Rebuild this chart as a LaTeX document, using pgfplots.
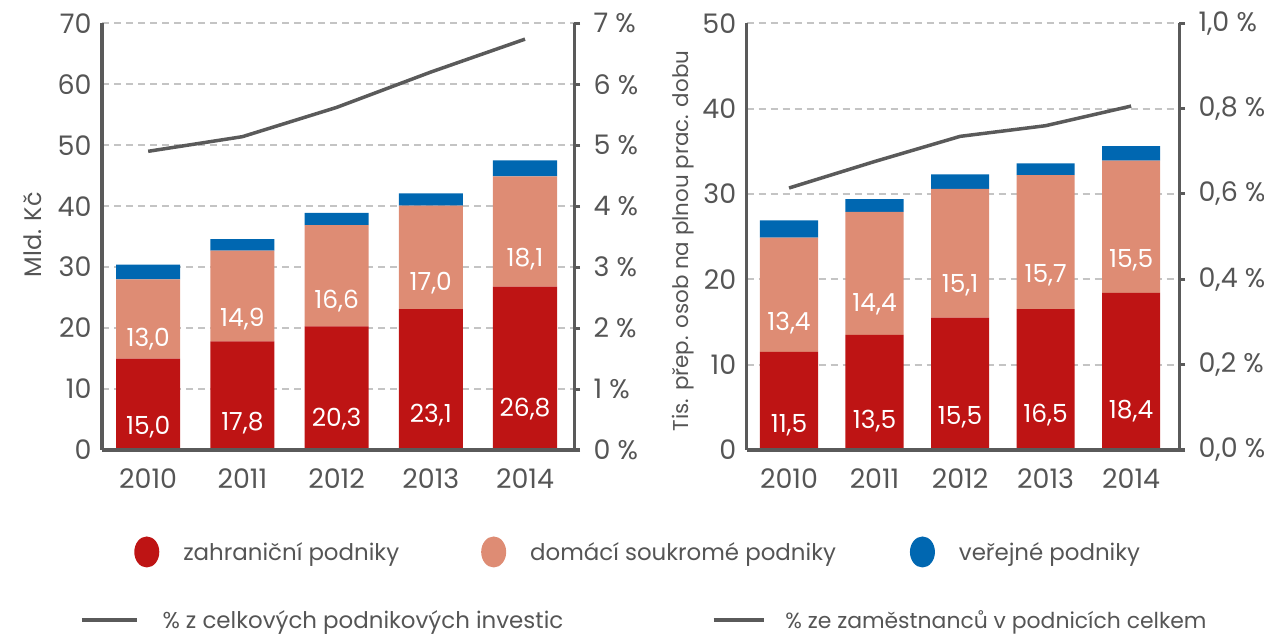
\documentclass[border=0pt]{standalone}
\usepackage{fontspec}
\setmainfont{Poppins}
\usepackage{pgfplots}
\pgfplotsset{compat=1.18}
\usepackage{pgfplotstable}
\definecolor{cred}{HTML}{BE1414}
\definecolor{cpeach}{HTML}{DE8C74}
\definecolor{cblue}{HTML}{0067B1}
\definecolor{axgray}{HTML}{5A5A5A}
\definecolor{gridgray}{HTML}{C4C4C4}
\definecolor{txtgray}{HTML}{555555}

\pgfplotstableread{
x red peach blue pct
0 15.0 13.0 2.4 4.90
1 17.8 14.9 1.9 5.14
2 20.3 16.6 2.0 5.62
3 23.1 17.0 2.0 6.20
4 26.8 18.1 2.6 6.74
}\leftdata

\pgfplotstableread{
x red peach blue pct
0 11.5 13.4 2.0 0.614
1 13.5 14.4 1.5 0.676
2 15.5 15.1 1.7 0.735
3 16.5 15.7 1.4 0.760
4 18.4 15.5 1.7 0.806
}\rightdata

\pgfplotsset{
  /pgf/number format/assume math mode=true,
  mybase/.style={
    scale only axis, anchor=south west,
    axis line style={draw=axgray, line width=3bp},
    ticklabel style={font=\fontsize{27}{30}\selectfont, text=txtgray},
    major tick length=0pt,
    clip=false,
  },
  barbase/.style={
    mybase,
    axis x line*=bottom, axis y line*=left,
    xtick={0,1,2,3,4}, xticklabels={2010,2011,2012,2013,2014},
    xticklabel style={yshift=-15bp},
    yticklabel style={xshift=-7bp},
    ymajorgrids,
    grid style={draw=gridgray, line width=1.8bp, dash pattern=on 7bp off 5bp},
    ybar stacked, bar width=0.68, ymin=0,
    ylabel style={text=txtgray},
  },
  linebase/.style={
    mybase,
    axis x line*=bottom, axis y line*=right,
    xtick=\empty, ymin=0,
    tick align=outside, major tick length=6bp,
    ytick style={draw=axgray, line width=3bp},
    yticklabel style={xshift=10bp},
    legend image code/.code={\draw[#1] (0bp,0bp) -- (55bp,0bp);},
    legend style={draw=none, fill=none, anchor=west,
      font=\fontsize{23}{26}\selectfont, text=txtgray, inner sep=0pt,
      /tikz/every odd column/.append style={column sep=22bp}},
  },
  valnodes/.style={
    nodes near coords={\pgfmathprintnumber[fixed,fixed zerofill,precision=1,use comma]{\pgfplotspointmeta}},
    point meta=explicit,
    visualization depends on=rawy\as\rawy,
    every node near coord/.append style={font=\fontsize{25}{28}\selectfont, text=white, anchor=center, shift={(axis direction cs:0,-\rawy/4)}},
  },
  circleleg/.style={legend image code/.code={\fill[##1] (13bp,0bp) ellipse [x radius=12.5bp, y radius=15.5bp];}},
}

\begin{document}
\begin{tikzpicture}
\useasboundingbox (0,0) rectangle (1264bp,634bp);

% ---------- left chart: bars ----------
\begin{axis}[barbase, at={(102bp,184bp)}, width=472bp, height=426.7bp,
  xmin=-0.49, xmax=4.52, ymax=70, ytick={0,10,...,70},
  ylabel={Mld. Kč},
  ylabel style={font=\fontsize{24}{27}\selectfont, at={(axis description cs:-0.148,0.504)}, anchor=center},
  legend columns=3,
  legend style={at={(axis description cs:0.068,-0.239)}, anchor=west, draw=none, fill=none,
    font=\fontsize{23}{26}\selectfont, text=txtgray, inner sep=0pt,
    /tikz/every odd column/.append style={column sep=22bp},
    /tikz/column 2/.append style={column sep=80bp},
    /tikz/column 4/.append style={column sep=72bp}},
]
\addplot[fill=cred, draw=none, circleleg, valnodes] table[x=x, y=red, meta=red]{\leftdata};
\addlegendentry{zahraniční podniky}
\addplot[fill=cpeach, draw=none, circleleg, valnodes] table[x=x, y=peach, meta=peach]{\leftdata};
\addlegendentry{domácí soukromé podniky}
\addplot[fill=cblue, draw=none, circleleg] table[x=x, y=blue]{\leftdata};
\addlegendentry{veřejné podniky}
\end{axis}

% ---------- left chart: line ----------
\begin{axis}[linebase, at={(102bp,184bp)}, width=472bp, height=426.7bp,
  xmin=-0.49, xmax=4.52, ymax=7, ytick={0,1,...,7},
  yticklabel={\pgfmathprintnumber{\tick}\ \%},
  legend style={at={(axis description cs:-0.047,-0.398)}},
]
\addplot[draw=axgray, line width=3.5bp] table[x=x, y=pct]{\leftdata};
\addlegendentry{\% z celkových podnikových investic}
\end{axis}

% ---------- right chart: bars ----------
\begin{axis}[barbase, at={(746.7bp,184bp)}, width=432.3bp, height=426.7bp,
  xmin=-0.495, xmax=4.56, ymax=50, ytick={0,10,...,50},
  ylabel={Tis. přep. osob na plnou prac. dobu},
  ylabel style={font=\fontsize{21.5}{24}\selectfont, at={(axis description cs:-0.147,0.49)}, anchor=center},
]
\addplot[fill=cred, draw=none, valnodes] table[x=x, y=red, meta=red]{\rightdata};
\addplot[fill=cpeach, draw=none, valnodes] table[x=x, y=peach, meta=peach]{\rightdata};
\addplot[fill=cblue, draw=none] table[x=x, y=blue]{\rightdata};
\end{axis}

% ---------- right chart: line ----------
\begin{axis}[linebase, at={(746.7bp,184bp)}, width=432.3bp, height=426.7bp,
  xmin=-0.495, xmax=4.56, ymax=1.0, ytick={0,0.2,...,1.0},
  yticklabel={\pgfmathprintnumber[fixed,fixed zerofill,precision=1,use comma]{\tick}\ \%},
  legend image code/.code={\draw[#1] (0bp,0bp) -- (50bp,0bp);},
  legend style={at={(axis description cs:-0.081,-0.398)}, font=\fontsize{22}{25}\selectfont,
    /tikz/every odd column/.append style={column sep=18bp}},
]
\addplot[draw=axgray, line width=3.5bp] table[x=x, y=pct]{\rightdata};
\addlegendentry{\% ze zaměstnanců v podnicích celkem}
\end{axis}
\end{tikzpicture}
\end{document}
